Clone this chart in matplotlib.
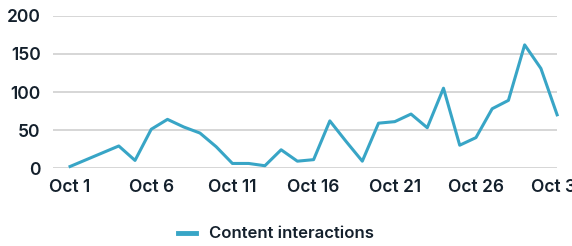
import matplotlib
matplotlib.use("Agg")
import matplotlib.pyplot as plt
import numpy as np

days = list(range(1, 32))
values = [2, 11, 20, 29, 10, 51, 64, 54, 46, 28, 6, 6, 3, 24, 9, 11, 62, 35, 9, 59, 61, 71, 53, 105, 30, 40, 78, 89, 162, 131, 70]
tick_days = [1, 6, 11, 16, 21, 26, 31]
tick_labels = ["Oct 1", "Oct 6", "Oct 11", "Oct 16", "Oct 21", "Oct 26", "Oct 31"]
y_ticks = [0, 50, 100, 150, 200]
series_name = "Content interactions"

plt.rcParams['font.family'] = ['Inter', 'DejaVu Sans']
text_color = "#14202c"
line_color = "#38a5c6"

fig = plt.figure(figsize=(5.72, 2.46), dpi=100)
ax = fig.add_axes([0.0927, 0.317, 0.974 - 0.0927, 0.935 - 0.317])

line, = ax.plot(days, values, color=line_color, linewidth=2.2, label=series_name, clip_on=False)
ax.set_xlim(-0.05, 31)
ax.set_ylim(0, 200)
ax.set_yticks(y_ticks)
ax.set_xticks(tick_days)
ax.set_xticklabels(tick_labels)
ax.grid(axis='y', color="#d6d6d6", linewidth=1.4)
ax.set_axisbelow(True)
for s in ax.spines.values():
    s.set_visible(False)
ax.tick_params(axis='both', length=0, labelsize=12.5, labelcolor=text_color)
ax.tick_params(axis='y', pad=9)
ax.tick_params(axis='x', pad=8)
for lab in ax.get_xticklabels() + ax.get_yticklabels():
    lab.set_fontweight('semibold')

leg = fig.legend(loc='center', bbox_to_anchor=(276 / 572, 1 - 234 / 246), frameon=False,
                 handlelength=1.1, handletextpad=0.8, labelcolor=text_color,
                 prop={'weight': 'semibold', 'size': 12})
for h in leg.legend_handles:
    h.set_linewidth(3.5)

fig.savefig("out.png", dpi=100)
